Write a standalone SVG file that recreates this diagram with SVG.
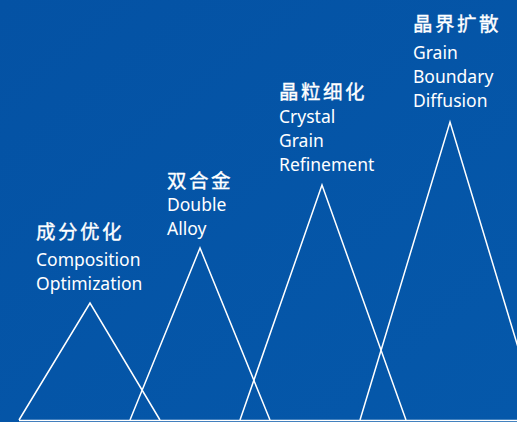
<svg xmlns="http://www.w3.org/2000/svg" width="517" height="422" viewBox="0 0 517 422">
<defs>
<linearGradient id="bg" x1="0" y1="0" x2="1" y2="1">
<stop offset="0" stop-color="#0452A4"/>
<stop offset="1" stop-color="#0558AA"/>
</linearGradient>
<style>
.zh{font-family:"Noto Sans CJK SC","Noto Sans",sans-serif;font-size:19.5px;font-weight:normal;fill:#fff;stroke:#fff;stroke-width:0.35px;letter-spacing:2.5px}
.en{font-family:"Noto Sans","Noto Sans CJK SC",sans-serif;font-size:17.5px;fill:#fff}
.ln{fill:none;stroke:#fff;stroke-width:1.5}
</style>
</defs>
<rect width="517" height="422" fill="url(#bg)"/>
<g id="connectors">
<line class="ln" x1="19" y1="420.5" x2="517" y2="420.5"/>
<polyline class="ln" points="19,420 90,303 160,420"/>
<polyline class="ln" points="130,420 200,248 270,420"/>
<polyline class="ln" points="240,420 322,185 406,420"/>
<polyline class="ln" points="360,420 450,122 540,420"/>
</g>
<g id="node1">
<text class="zh" x="36" y="238.5">成分优化</text>
<text class="en" x="36" y="266">Composition</text>
<text class="en" x="36" y="290">Optimization</text>
</g>
<g id="node2">
<text class="zh" x="167" y="187.5">双合金</text>
<text class="en" x="167" y="211">Double</text>
<text class="en" x="167" y="235">Alloy</text>
</g>
<g id="node3">
<text class="zh" x="279" y="98.5">晶粒细化</text>
<text class="en" x="279" y="123">Crystal</text>
<text class="en" x="279" y="147">Grain</text>
<text class="en" x="279" y="171">Refinement</text>
</g>
<g id="node4">
<text class="zh" x="413" y="30.5">晶界扩散</text>
<text class="en" x="413" y="59">Grain</text>
<text class="en" x="413" y="83">Boundary</text>
<text class="en" x="413" y="107">Diffusion</text>
</g>
</svg>
